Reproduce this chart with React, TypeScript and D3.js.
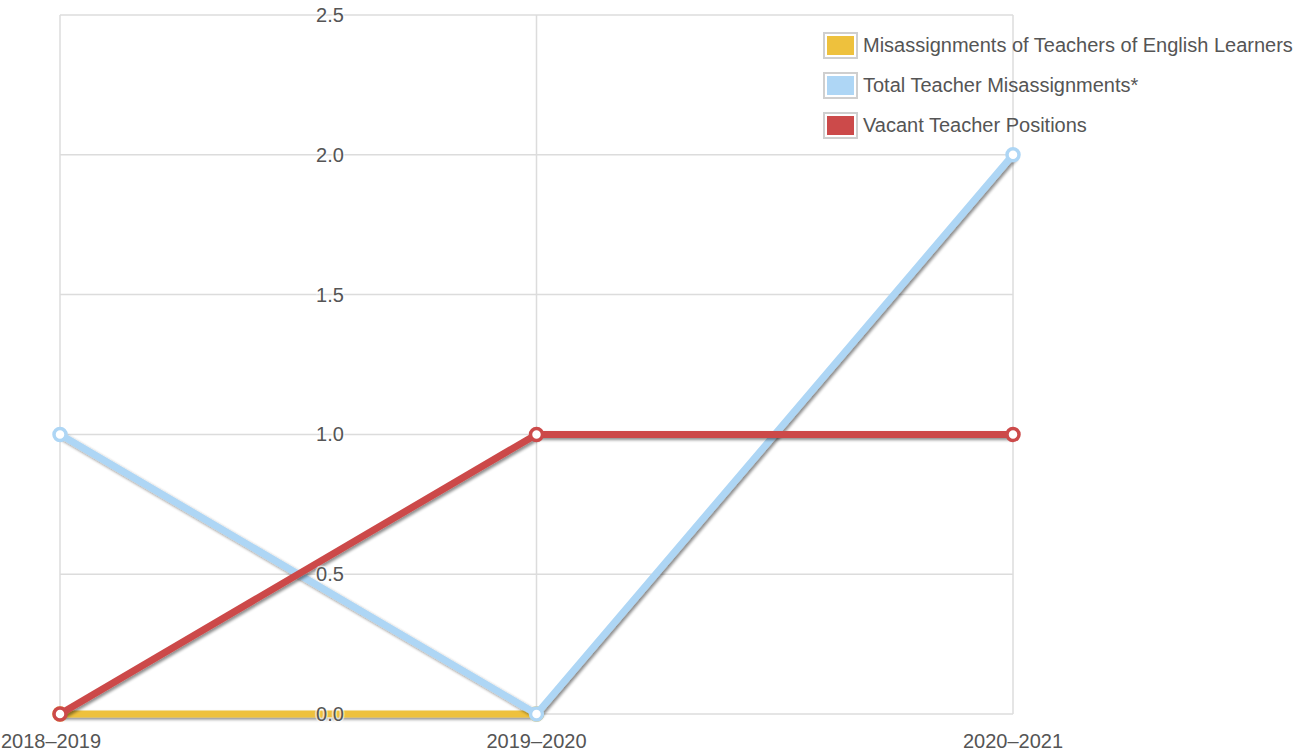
import * as d3 from "d3";

const years = ["2018–2019", "2019–2020", "2020–2021"];
const englishLearners = [0, 0, null];
const totalMisassignments = [1, 0, 2];
const vacantPositions = [0, 1, 1];
const yTicks = [0, 0.5, 1, 1.5, 2, 2.5];

const seriesList = [
    { name: "Misassignments of Teachers of English Learners", values: englishLearners, color: "#eec13d" },
    { name: "Total Teacher Misassignments*", values: totalMisassignments, color: "#aed6f5" },
    { name: "Vacant Teacher Positions", values: vacantPositions, color: "#cc4a4a" },
];

export default function App() {
    const width = 1304;
    const height = 752;
    const margin = { top: 15, right: 291, bottom: 38, left: 60 };

    const xScale = d3
        .scalePoint()
        .domain(years)
        .range([margin.left, width - margin.right]);

    const yScale = d3
        .scaleLinear()
        .domain([0, 2.5])
        .range([height - margin.bottom, margin.top]);

    const line = d3
        .line<number | null>()
        .defined((d) => d !== null)
        .x((_, i) => xScale(years[i]) ?? 0)
        .y((d) => yScale(d ?? 0));

    const labelX = 330;
    const textColor = "#555";
    const fontSize = 20;

    return (
        <svg
            width={width}
            height={height}
            style={{ position: "absolute", left: 0, top: 0, fontFamily: "Liberation Sans, Arial, sans-serif" }}
        >
            <defs>
                <filter id="shadow" filterUnits="userSpaceOnUse" x={0} y={0} width={width} height={height}>
                    <feGaussianBlur in="SourceAlpha" stdDeviation="1.5" />
                    <feOffset dx="1.5" dy="2" result="blur" />
                    <feComponentTransfer>
                        <feFuncA type="linear" slope="0.45" />
                    </feComponentTransfer>
                    <feMerge>
                        <feMergeNode />
                        <feMergeNode in="SourceGraphic" />
                    </feMerge>
                </filter>
            </defs>

            {yTicks.map((tick) => (
                <line
                    key={tick}
                    x1={margin.left}
                    x2={width - margin.right}
                    y1={yScale(tick)}
                    y2={yScale(tick)}
                    stroke="#dcdcdc"
                    strokeWidth={1.5}
                />
            ))}
            {years.map((y) => (
                <line
                    key={y}
                    x1={xScale(y)}
                    x2={xScale(y)}
                    y1={yScale(2.5)}
                    y2={yScale(0)}
                    stroke="#dcdcdc"
                    strokeWidth={1.5}
                />
            ))}

            {seriesList.map((s) => (
                <g key={s.name}>
                    <path
                        d={line(s.values) ?? ""}
                        fill="none"
                        stroke={s.color}
                        strokeWidth={7}
                        strokeLinejoin="round"
                        filter="url(#shadow)"
                    />
                    {s.values.map((v, i) =>
                        v === null ? null : (
                            <circle
                                key={i}
                                cx={xScale(years[i])}
                                cy={yScale(v)}
                                r={6}
                                fill="#fff"
                                stroke={s.color}
                                strokeWidth={3.5}
                            />
                        )
                    )}
                </g>
            ))}

            {yTicks.map((tick) => (
                <text
                    key={tick}
                    x={labelX}
                    y={yScale(tick)}
                    textAnchor="middle"
                    dominantBaseline="central"
                    fontSize={fontSize}
                    fill={textColor}
                    stroke="#fff"
                    strokeWidth={3}
                    strokeOpacity={0.6}
                    paintOrder="stroke"
                >
                    {tick.toFixed(1)}
                </text>
            ))}

            {years.map((y, i) => (
                <text
                    key={y}
                    x={i === 0 ? 1 : xScale(y)}
                    y={height - 4}
                    textAnchor={i === 0 ? "start" : "middle"}
                    fontSize={fontSize}
                    fill={textColor}
                >
                    {y}
                </text>
            ))}

            {seriesList.map((s, i) => (
                <g key={s.name} transform={`translate(823, ${32 + i * 40})`}>
                    <rect x={1} y={1} width={33} height={25} fill="#fff" stroke="#cfcfcf" strokeWidth={2} />
                    <rect x={4} y={4} width={27} height={19} fill={s.color} />
                    <text x={40} y={13} dominantBaseline="central" fontSize={fontSize} fill={textColor}>
                        {s.name}
                    </text>
                </g>
            ))}
        </svg>
    );
}
